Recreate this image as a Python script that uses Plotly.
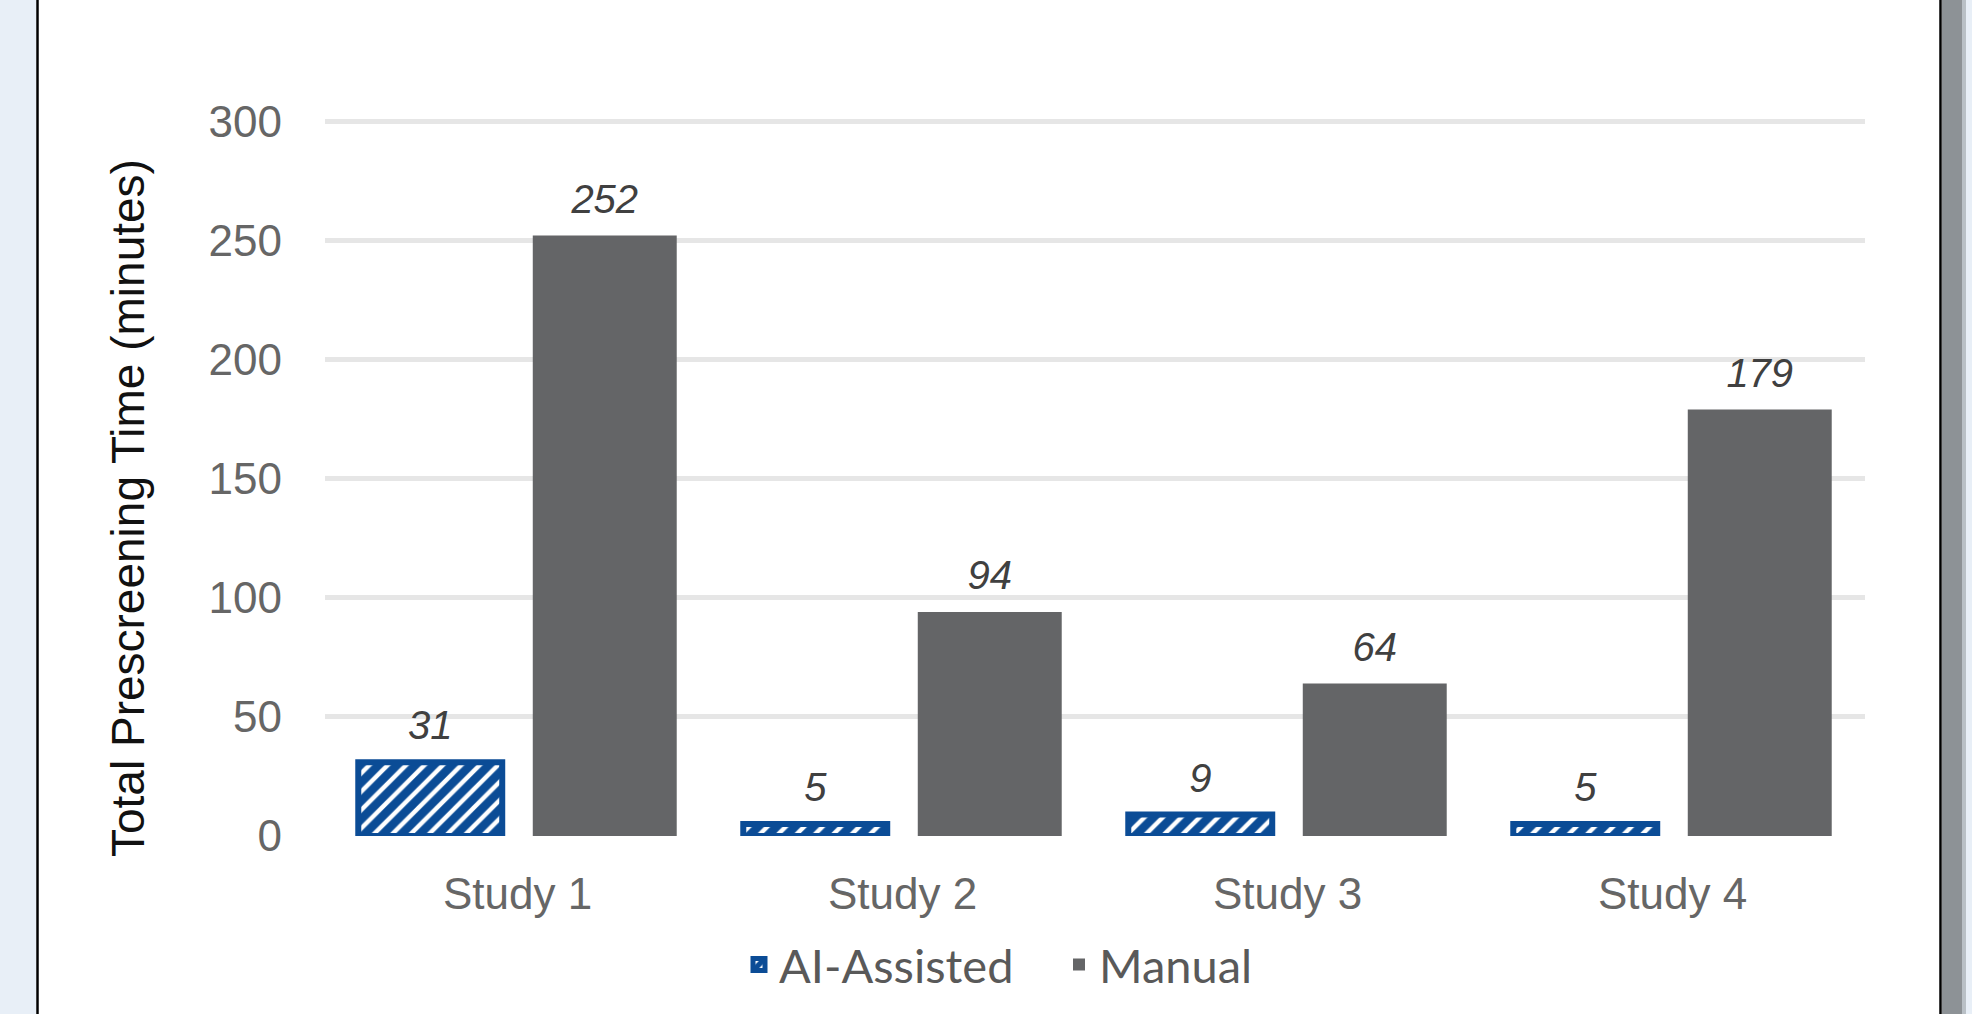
import plotly.graph_objects as go

# ---------------- data ----------------
categories = ["Study 1", "Study 2", "Study 3", "Study 4"]
ai_assisted = [31, 5, 9, 5]
manual = [252, 94, 64, 179]
series_names = ["AI-Assisted", "Manual"]
y_tick_values = [0, 50, 100, 150, 200, 250, 300]
y_title = "Total Prescreening Time (minutes)"

# ---------------- layout geometry ----------------
W, H = 1972, 1014
L, R, T, B = 325, 107, 120, 178
PW = W - L - R
PH = H - T - B
Y_MAX = 300.5


def px_x(px):
    return (px - L) / PW


def px_y(py):
    return (H - B - py) / PH


BLUE = "#0B4C96"
GRAY = "#646567"
FONT = "Liberation Sans, Arial, sans-serif"
BARGAP = 0.0935
GROUPGAP = 0.175

fig = go.Figure()
fig.add_trace(go.Bar(
    name=series_names[0], x=categories, y=ai_assisted, offsetgroup="ai",
    marker=dict(color="white", line=dict(color=BLUE, width=6),
                pattern=dict(shape="/", fgcolor=BLUE, bgcolor="white",
                             fgopacity=1, size=13, solidity=0.66)),
    hoverinfo="skip",
))
fig.add_trace(go.Bar(
    name=series_names[1], x=categories, y=manual, offsetgroup="man",
    marker=dict(color=GRAY, line=dict(width=0)),
    hoverinfo="skip",
))

# data labels (grouped scatter text aligned with the bars)
for vals, grp in [(ai_assisted, "ai"), (manual, "man")]:
    fig.add_trace(go.Scatter(
        x=categories, y=vals, mode="markers+text", offsetgroup=grp,
        text=[str(v) for v in vals], textposition="top center",
        marker=dict(size=19, color="rgba(0,0,0,0)"),
        textfont=dict(size=40, color="#404040", family=FONT, style="italic"),
        showlegend=False, hoverinfo="skip", cliponaxis=False,
    ))

# frame decorations
shapes = [
    dict(type="rect", xref="paper", yref="paper", x0=px_x(0), x1=px_x(36),
         y0=px_y(H), y1=px_y(0), fillcolor="#E8EFF7", line=dict(width=0), layer="below"),
    dict(type="rect", xref="paper", yref="paper", x0=px_x(1942), x1=px_x(W),
         y0=px_y(H), y1=px_y(0), fillcolor="#E8EFF7", line=dict(width=0), layer="below"),
    dict(type="rect", xref="paper", yref="paper", x0=px_x(1942), x1=px_x(1962),
         y0=px_y(H), y1=px_y(0), fillcolor="#8D9296", line=dict(width=0), layer="below"),
    dict(type="rect", xref="paper", yref="paper", x0=px_x(1962), x1=px_x(1966),
         y0=px_y(H), y1=px_y(0), fillcolor="#B9C0C6", line=dict(width=0), layer="below"),
    dict(type="line", xref="paper", yref="paper", x0=px_x(37.5), x1=px_x(37.5),
         y0=px_y(H), y1=px_y(0), line=dict(color="black", width=2.5)),
    dict(type="line", xref="paper", yref="paper", x0=px_x(1940.5), x1=px_x(1940.5),
         y0=px_y(H), y1=px_y(0), line=dict(color="black", width=2.5)),
]

fig.update_layout(
    width=W, height=H,
    margin=dict(l=L, r=R, t=T, b=B, pad=0),
    paper_bgcolor="white", plot_bgcolor="white",
    barmode="group", bargap=BARGAP, bargroupgap=GROUPGAP,
    scattermode="group", scattergap=BARGAP,
    font=dict(family=FONT, color="#666666", size=44),
    showlegend=True,
    legend=dict(orientation="h", x=px_x(739), xanchor="left",
                y=px_y(965), yanchor="middle",
                entrywidth=275, entrywidthmode="pixels",
                font=dict(family="Lato, Liberation Sans, sans-serif", size=47, color="#595959"),
                bgcolor="rgba(0,0,0,0)", traceorder="normal"),
    shapes=shapes,
    annotations=[dict(text=y_title, xref="paper", yref="paper",
                      x=px_x(128), y=px_y(508), textangle=-90,
                      showarrow=False, xanchor="center", yanchor="middle",
                      font=dict(family=FONT, size=46, color="#111111"))],
)
fig.update_xaxes(
    showgrid=False, zeroline=False, showline=False, ticks="",
    tickfont=dict(size=44, color="#666666", family=FONT),
    ticklabelstandoff=28, range=[-0.5, 3.5],
)
fig.update_yaxes(
    range=[0, Y_MAX], tickvals=y_tick_values, showgrid=True,
    gridcolor="#E6E6E6", gridwidth=5, zeroline=False, showline=False, ticks="",
    tickfont=dict(size=44, color="#666666", family=FONT),
    ticklabelstandoff=42,
)

fig.write_html("out.html")
